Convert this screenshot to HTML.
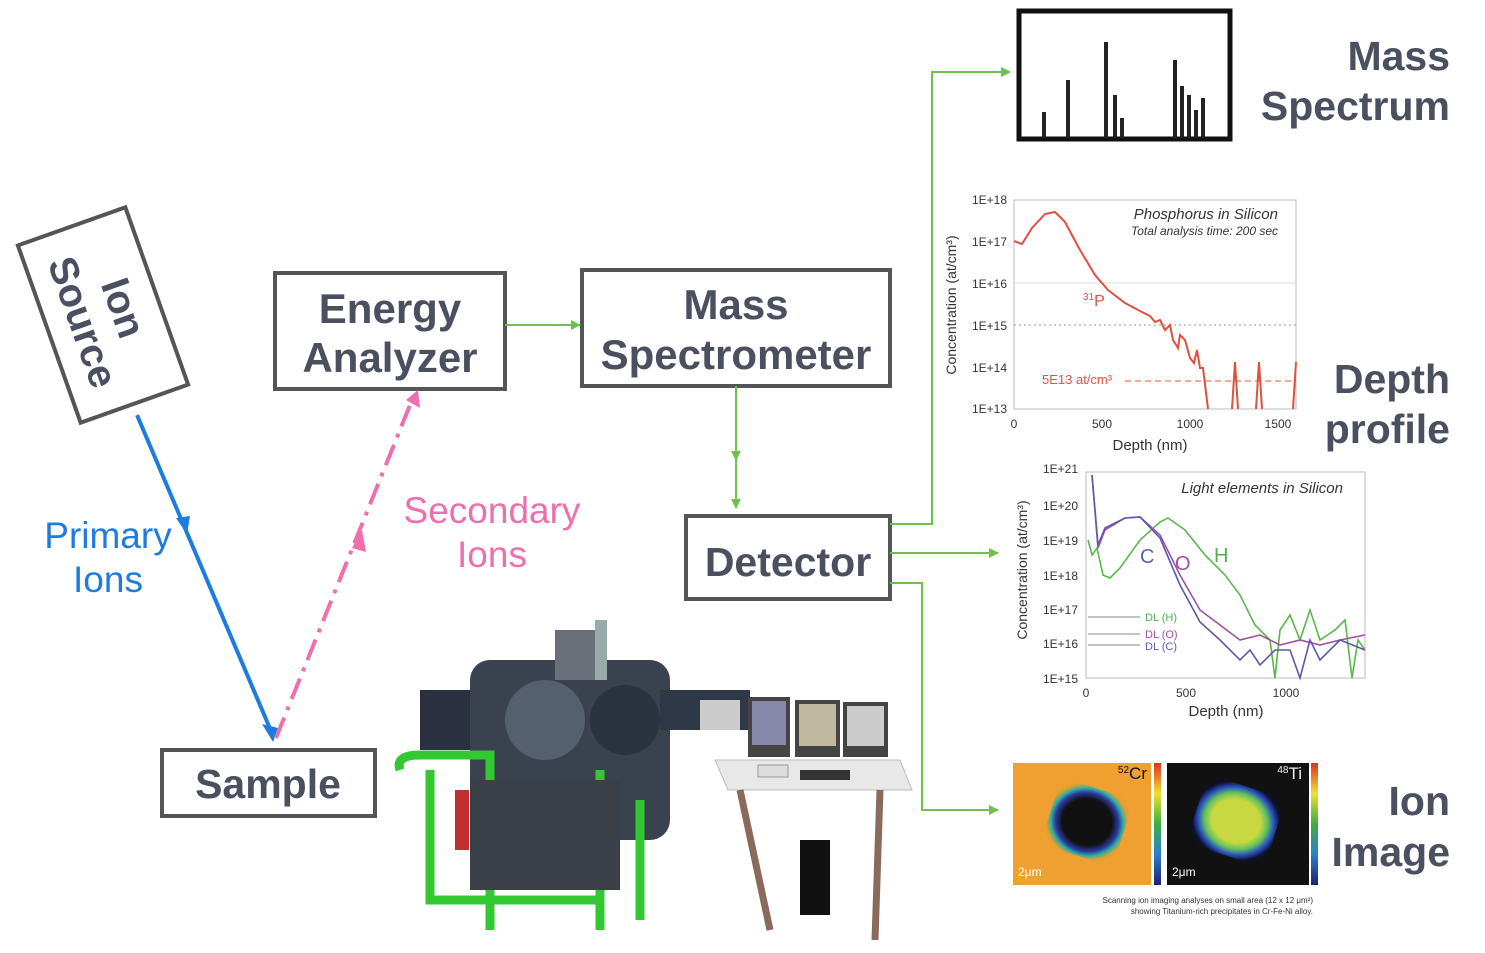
<!DOCTYPE html>
<html><head><meta charset="utf-8"><style>
html,body{margin:0;padding:0;background:#fff}
svg{display:block}
text{font-family:"Liberation Sans",Arial,sans-serif}
</style></head><body>
<svg width="1485" height="953" viewBox="0 0 1485 953" xmlns="http://www.w3.org/2000/svg">
<defs>
<marker id="g" markerWidth="10" markerHeight="10" refX="9" refY="5" orient="auto" markerUnits="userSpaceOnUse"><path d="M0,0 L10,5 L0,10 z" fill="#6cc24a"/></marker>
<linearGradient id="cb" x1="0" y1="1" x2="0" y2="0"><stop offset="0" stop-color="#202070"/><stop offset=".25" stop-color="#2a7fd0"/><stop offset=".5" stop-color="#3ab040"/><stop offset=".75" stop-color="#f0e030"/><stop offset="1" stop-color="#e03020"/></linearGradient>
<radialGradient id="cr" cx=".5" cy=".5" r=".6"><stop offset=".55" stop-color="#111"/><stop offset=".7" stop-color="#2c3aa0"/><stop offset=".8" stop-color="#30b0a0"/><stop offset=".9" stop-color="#e0a030"/><stop offset="1" stop-color="#f0a030"/></radialGradient>
<radialGradient id="ti" cx=".5" cy=".5" r=".6"><stop offset=".5" stop-color="#c8d840"/><stop offset=".65" stop-color="#60c060"/><stop offset=".78" stop-color="#2a50c0"/><stop offset=".9" stop-color="#101030"/><stop offset="1" stop-color="#111"/></radialGradient>
</defs>

<!-- Ion source -->
<g transform="translate(103,315) rotate(70.5)">
<rect x="-94" y="-57" width="188" height="114" fill="#fff" stroke="#555" stroke-width="4"/>
<text x="0" y="-8" font-size="40" font-weight="bold" fill="#4a5060" text-anchor="middle">Ion</text>
<text x="0" y="35" font-size="40" font-weight="bold" fill="#4a5060" text-anchor="middle">Source</text>
</g>

<!-- boxes -->
<g fill="#fff" stroke="#555" stroke-width="4">
<rect x="275" y="273" width="230" height="116"/>
<rect x="582" y="270" width="308" height="116"/>
<rect x="686" y="516" width="204" height="83"/>
<rect x="162" y="750" width="213" height="66"/>
</g>
<g font-size="42" font-weight="bold" fill="#4a5060" text-anchor="middle">
<text x="390" y="323">Energy</text><text x="390" y="372">Analyzer</text>
<text x="736" y="319">Mass</text><text x="736" y="369">Spectrometer</text>
<text x="788" y="576" font-size="41">Detector</text>
<text x="268" y="798" font-size="41">Sample</text>
<g font-size="41">
<text x="1450" y="70" text-anchor="end">Mass</text><text x="1450" y="120" text-anchor="end">Spectrum</text>
<text x="1450" y="393" text-anchor="end">Depth</text><text x="1450" y="443" text-anchor="end">profile</text>
<text x="1450" y="815" text-anchor="end">Ion</text><text x="1450" y="866" text-anchor="end">Image</text>
</g>
</g>

<!-- green connectors -->
<g stroke="#6cc24a" stroke-width="2" fill="none">
<path d="M505,325 H580" marker-end="url(#g)"/>
<path d="M736,386 V508" marker-end="url(#g)"/>
<path d="M736,430 V460" marker-end="url(#g)"/>
<path d="M890,524 H932 V72 H1010" marker-end="url(#g)"/>
<path d="M890,553 H998" marker-end="url(#g)"/>
<path d="M890,583 H922 V810 H998" marker-end="url(#g)"/>
</g>

<!-- primary ions -->
<line x1="137" y1="415" x2="274" y2="738" stroke="#1e7be0" stroke-width="4"/>
<path d="M176,518 L190,516 L187,534 z" fill="#1e7be0"/>
<path d="M262,724 L278,728 L273,742 z" fill="#1e7be0"/>
<text x="108" y="548" font-size="37" fill="#1e7be0" text-anchor="middle">Primary</text>
<text x="108" y="592" font-size="37" fill="#1e7be0" text-anchor="middle">Ions</text>
<!-- secondary -->
<line x1="276" y1="738" x2="412" y2="400" stroke="#ee6fae" stroke-width="4" stroke-dasharray="22,8,4,8"/>
<path d="M352,548 L362,530 L366,552 z" fill="#ee6fae"/>
<path d="M406,400 L418,390 L420,408 z" fill="#ee6fae"/>
<text x="492" y="523" font-size="37" fill="#ee6fae" text-anchor="middle">Secondary</text>
<text x="492" y="567" font-size="37" fill="#ee6fae" text-anchor="middle">Ions</text>

<!-- mass spectrum -->
<rect x="1019" y="11" width="211" height="128" fill="#fff" stroke="#111" stroke-width="5"/>
<g stroke="#222" stroke-width="4">
<line x1="1044" y1="138" x2="1044" y2="112"/><line x1="1068" y1="138" x2="1068" y2="80"/>
<line x1="1106" y1="138" x2="1106" y2="42"/><line x1="1115" y1="138" x2="1115" y2="95"/>
<line x1="1122" y1="138" x2="1122" y2="118"/><line x1="1175" y1="138" x2="1175" y2="60"/>
<line x1="1182" y1="138" x2="1182" y2="86"/><line x1="1189" y1="138" x2="1189" y2="95"/>
<line x1="1196" y1="138" x2="1196" y2="110"/><line x1="1203" y1="138" x2="1203" y2="98"/>
</g>

<!-- depth profile 1 -->
<g font-size="12" fill="#333">
<rect x="1014" y="200" width="282" height="209" fill="#fff" stroke="#bbb"/>
<line x1="1014" y1="283" x2="1296" y2="283" stroke="#ddd"/><line x1="1014" y1="325" x2="1296" y2="325" stroke="#999" stroke-dasharray="2,3"/>
<text x="1007" y="204" text-anchor="end">1E+18</text><text x="1007" y="246" text-anchor="end">1E+17</text>
<text x="1007" y="288" text-anchor="end">1E+16</text><text x="1007" y="330" text-anchor="end">1E+15</text>
<text x="1007" y="372" text-anchor="end">1E+14</text><text x="1007" y="413" text-anchor="end">1E+13</text>
<text x="1014" y="428" text-anchor="middle">0</text><text x="1102" y="428" text-anchor="middle">500</text>
<text x="1190" y="428" text-anchor="middle">1000</text><text x="1278" y="428" text-anchor="middle">1500</text>
<text x="1150" y="450" font-size="15" text-anchor="middle">Depth (nm)</text>
<text transform="translate(956,305) rotate(-90)" font-size="14" text-anchor="middle">Concentration (at/cm³)</text>
<text x="1278" y="219" font-size="15" font-style="italic" text-anchor="end">Phosphorus in Silicon</text>
<text x="1278" y="235" font-size="12" font-style="italic" text-anchor="end">Total analysis time: 200 sec</text>
<text x="1083" y="306" font-size="16" fill="#e85040"><tspan font-size="10" dy="-6">31</tspan><tspan dy="6">P</tspan></text>
<text x="1042" y="384" font-size="13" fill="#e85040">5E13 at/cm³</text>
<line x1="1125" y1="381" x2="1296" y2="381" stroke="#e85040" stroke-dasharray="6,4"/>
<polyline fill="none" stroke="#e05040" stroke-width="2" points="1014,241 1022,244 1032,228 1045,214 1055,212 1065,222 1080,250 1095,275 1108,290 1125,303 1140,311 1150,316 1155,322 1160,320 1165,330 1170,325 1173,340 1178,348 1180,335 1185,340 1190,358 1194,363 1197,350 1200,368 1203,368 1208,409"/>
<path d="M1232,409 L1235,362 L1238,409 M1256,409 L1259,362 L1262,409 M1293,409 L1296,362" stroke="#e05040" stroke-width="2" fill="none"/>
</g>

<!-- depth profile 2 -->
<g font-size="12" fill="#333">
<rect x="1086" y="472" width="279" height="206" fill="#fff" stroke="#bbb"/>
<text x="1078" y="473" text-anchor="end">1E+21</text><text x="1078" y="510" text-anchor="end">1E+20</text>
<text x="1078" y="545" text-anchor="end">1E+19</text><text x="1078" y="580" text-anchor="end">1E+18</text>
<text x="1078" y="614" text-anchor="end">1E+17</text><text x="1078" y="648" text-anchor="end">1E+16</text>
<text x="1078" y="683" text-anchor="end">1E+15</text>
<text x="1086" y="697" text-anchor="middle">0</text><text x="1186" y="697" text-anchor="middle">500</text><text x="1286" y="697" text-anchor="middle">1000</text>
<text x="1226" y="716" font-size="15" text-anchor="middle">Depth (nm)</text>
<text transform="translate(1027,570) rotate(-90)" font-size="14" text-anchor="middle">Concentration (at/cm³)</text>
<text x="1343" y="493" font-size="15" font-style="italic" text-anchor="end">Light elements in Silicon</text>
<text x="1140" y="563" font-size="20" fill="#6060b0">C</text><text x="1175" y="570" font-size="20" fill="#a050a0">O</text><text x="1214" y="562" font-size="20" fill="#50b050">H</text>
<text x="1145" y="621" font-size="11" fill="#50b050">DL (H)</text><text x="1145" y="638" font-size="11" fill="#a050a0">DL (O)</text><text x="1145" y="650" font-size="11" fill="#6060b0">DL (C)</text>
<polyline fill="none" stroke="#5ab84a" stroke-width="1.6" points="1088,540 1092,555 1097,548 1103,575 1110,578 1120,568 1140,540 1160,522 1168,518 1185,530 1205,555 1225,575 1240,595 1255,625 1270,640 1275,678 1280,630 1290,615 1300,640 1310,610 1320,640 1335,630 1345,620 1352,678 1358,640 1365,650"/>
<polyline fill="none" stroke="#a050a0" stroke-width="1.6" points="1092,475 1098,548 1105,530 1125,518 1140,517 1160,535 1180,575 1200,610 1220,625 1240,640 1260,635 1280,645 1300,640 1320,645 1340,640 1365,635"/>
<polyline fill="none" stroke="#5a5aa8" stroke-width="1.6" points="1092,475 1098,545 1105,528 1125,518 1140,517 1160,538 1180,585 1200,622 1220,640 1240,660 1250,650 1260,665 1275,650 1290,650 1300,678 1310,640 1320,660 1340,640 1365,650"/>
<path d="M1088,617 H1140 M1088,634 H1140 M1088,645 H1140" stroke="#888" stroke-width="1"/>
</g>

<!-- ion images -->
<rect x="1013" y="763" width="138" height="122" fill="#f0a030"/>
<rect x="1049" y="787" width="76" height="70" rx="14" fill="url(#cr)" transform="rotate(18 1087 822)"/>
<rect x="1154" y="763" width="7" height="122" fill="url(#cb)"/>
<rect x="1167" y="763" width="142" height="122" fill="#111"/>
<rect x="1195" y="785" width="82" height="72" rx="14" fill="url(#ti)" transform="rotate(18 1236 821)"/>
<rect x="1311" y="763" width="7" height="122" fill="url(#cb)"/>
<text x="1147" y="779" font-size="17" text-anchor="end" fill="#111"><tspan font-size="10" dy="-6">52</tspan><tspan dy="6">Cr</tspan></text>
<text x="1302" y="779" font-size="17" text-anchor="end" fill="#eee"><tspan font-size="10" dy="-6">48</tspan><tspan dy="6">Ti</tspan></text>
<text x="1018" y="876" font-size="12" fill="#fff">2μm</text><text x="1172" y="876" font-size="12" fill="#fff">2μm</text>
<text x="1313" y="903" font-size="8" text-anchor="end" fill="#333">Scanning ion imaging analyses on small area (12 x 12 μm²)</text>
<text x="1313" y="914" font-size="8" text-anchor="end" fill="#333">showing Titanium-rich precipitates in Cr-Fe-Ni alloy.</text>

<!-- instrument photo (approx) -->
<g>
<rect x="420" y="690" width="70" height="60" fill="#2a3040"/>
<rect x="470" y="660" width="200" height="180" rx="20" fill="#3a4250"/>
<circle cx="545" cy="720" r="40" fill="#55606e"/>
<circle cx="625" cy="720" r="35" fill="#2a3440"/>
<rect x="555" y="630" width="40" height="50" fill="#6a707a"/>
<rect x="595" y="620" width="12" height="60" fill="#9aa"/>
<rect x="660" y="690" width="90" height="40" fill="#2e3846"/>
<rect x="700" y="700" width="40" height="30" fill="#ccc"/>
<path d="M400,770 Q395,755 420,755 H490 V930 M430,770 V900 H600 V930 M600,770 V930 M640,800 V920" stroke="#32c832" stroke-width="9" fill="none"/>
<rect x="470" y="780" width="150" height="110" fill="#3a3f48"/>
<rect x="455" y="790" width="14" height="60" fill="#c03030"/>
<path d="M715,760 L900,760 L912,790 L728,790 z" fill="#e8e8e8" stroke="#bbb"/>
<path d="M740,790 L770,930 M880,790 L875,940" stroke="#8a6a5a" stroke-width="7" fill="none"/>
<rect x="748" y="697" width="42" height="60" fill="#444"/><rect x="752" y="701" width="34" height="44" fill="#8888aa"/>
<rect x="795" y="700" width="45" height="57" fill="#444"/><rect x="799" y="704" width="37" height="42" fill="#c0b8a0"/>
<rect x="843" y="702" width="45" height="55" fill="#444"/><rect x="847" y="706" width="37" height="40" fill="#ccc"/>
<rect x="800" y="840" width="30" height="75" fill="#111"/>
<rect x="758" y="765" width="30" height="12" fill="#ddd" stroke="#999"/>
<rect x="800" y="770" width="50" height="10" fill="#333"/>
</g>
</svg>
</body></html>
